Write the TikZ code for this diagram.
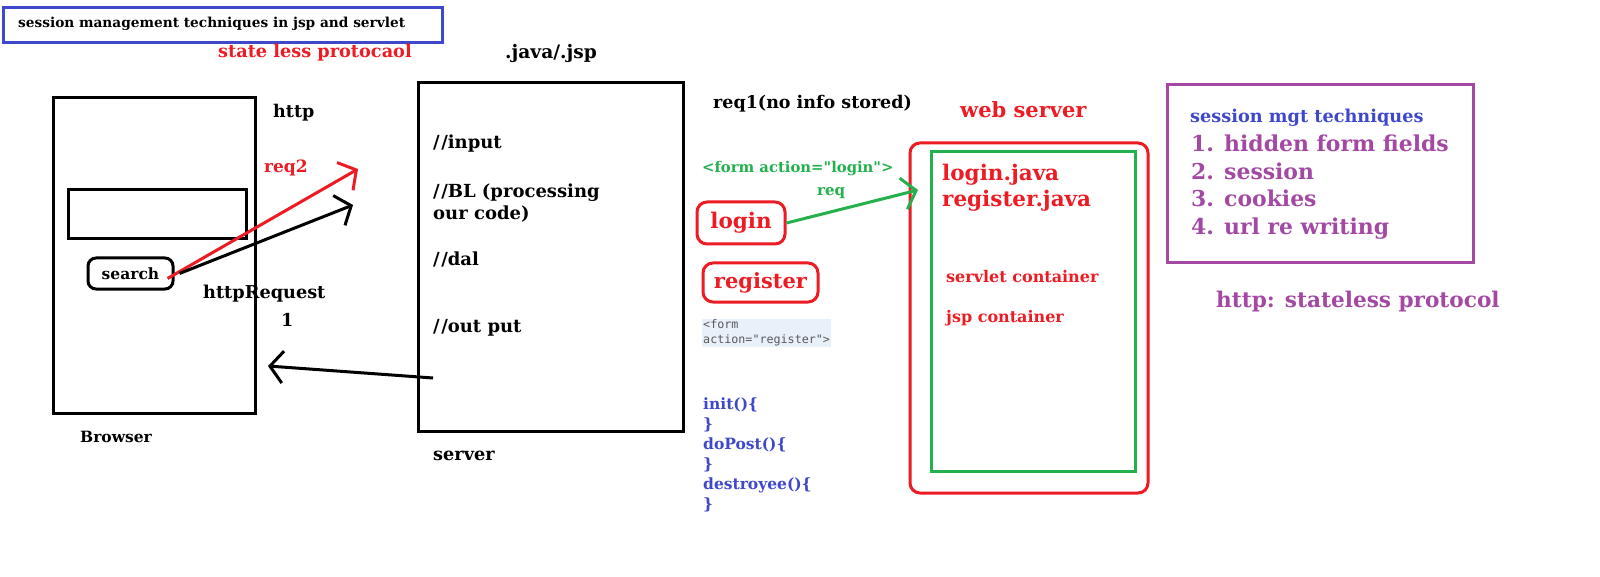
\documentclass[tikz,border=0pt]{standalone}
\usepackage{xcolor}
\usepackage{fontspec}
\setmainfont{DejaVu Serif}
\newfontfamily\qfont{DejaVu Serif}
\newfontfamily\codefont{DejaVu Sans Mono}
\usepackage{tikz}
\usetikzlibrary{arrows.meta,calc,positioning}

\definecolor{pblue}{RGB}{63,72,204}
\definecolor{pred}{RGB}{237,28,36}
\definecolor{pgreen}{RGB}{34,177,76}
\definecolor{ppurple}{RGB}{163,73,164}
\definecolor{codebg}{RGB}{232,240,250}

\newcommand{\fsz}[1]{\bfseries\fontsize{#1}{#1}\selectfont}
\newcommand{\sls}{/\kern1.5pt/}

\begin{document}
\begin{tikzpicture}[
x=1pt,y=-1pt,
frame/.style={
    rectangle,draw=black,line width=3pt,inner sep=0pt
},
rframe/.style={
    rectangle,rounded corners=10pt,line width=3pt,inner sep=0pt
},
lbl/.style={
    anchor=west,inner sep=0pt,align=left
},
barb/.style={
    line width=3pt,-{Straight Barb[length=13pt,width=32pt,line width=3pt]}
}
]
    \useasboundingbox[fill=white] (0,0) rectangle (1600,577);

    \node(T1)[frame,draw=pblue,minimum width=439,minimum height=35] at (222.5,25.5){};
    \node(T2)[lbl,font=\fsz{13.7}] at (18,24){session management techniques in jsp and servlet};
    \node(T3)[lbl,font=\fsz{17.7},text=pred] at (218,53){state less protocaol};

    \node(B1)[frame,minimum width=202,minimum height=315] at (154,255.5){};
    \node(B2)[frame,minimum width=178,minimum height=49] at (157,214.5){};
    \node(B3)[rframe,draw=black,rounded corners=8pt,minimum width=85,minimum height=31] at (130.5,273.5){};
    \node(B4)[font=\fsz{15.5}] at (B3){search};
    \node(B5)[lbl,font=\fsz{15.5}] at (80,437){Browser};
    \node(H1)[lbl,font=\fsz{17.5}] at (273,113){http};
    \node(H2)[lbl,font=\fsz{17},text=pred] at (264,168){req2};
    \node(H3)[lbl,font=\fsz{17.7}] at (203,294){httpRequest};
    \node(H4)[lbl,font=\fsz{17.7}] at (281,320){1};

    \node(S1)[frame,minimum width=265,minimum height=348] at (550.5,257){};
    \node(S2)[lbl,font=\fsz{18.6}] at (505,54){.java/.jsp};
    \node(S3)[lbl,font=\fsz{18}] at (433,144){\sls input};
    \node(S4)[lbl,font=\fsz{18}] at (433,203){\sls BL (processing\\[4pt]our code)};
    \node(S5)[lbl,font=\fsz{18}] at (433,259){\sls dal};
    \node(S6)[lbl,font=\fsz{18}] at (433,328){\sls out put};
    \node(S7)[lbl,font=\fsz{17.7}] at (433,456){server};

    \coordinate(R2) at (358,169);
    \coordinate(R1) at (353,205);
    \coordinate(O1) at (433,378);
    \coordinate(O2) at (268,366);
    \draw[barb,draw=pred] ([xshift=-7pt,yshift=-5pt]B3.east) to (R2);
    \draw[barb] ([xshift=5pt]B3.east) to (R1);
    \draw[barb] (O1) to (O2);

    \node(Q1)[lbl,font=\fsz{17.5}] at (713,104){req1(no info stored)};
    \node(Q2)[lbl,font=\qfont\fsz{14.8},text=pgreen] at (702,169){<form action="login">};
    \node(Q3)[lbl,font=\fsz{15},text=pgreen] at (817,193){req};
    \node(L1)[rframe,draw=pred,minimum width=88,minimum height=42] at (741,223){};
    \node(L2)[font=\fsz{21.5},text=pred] at (L1){login};
    \node(L3)[rframe,draw=pred,minimum width=115,minimum height=39] at (760.5,282.5){};
    \node(L4)[font=\fsz{21},text=pred] at (L3){register};
    \node(L5)[lbl,fill=codebg,inner sep=1pt,text=black!65,font=\codefont\fontsize{11.7}{14.5}\selectfont] at (702,333){<form\\action="register">};
    \node(L6)[lbl,text=pblue,font=\bfseries\fontsize{15.5}{20}\selectfont] at (703,455){init()\{\\\}\\doPost()\{\\\}\\destroyee()\{\\\}};

    \node(W1)[lbl,font=\fsz{21},text=pred] at (960,110){web server};
    \node(W2)[rframe,draw=pred,minimum width=238,minimum height=350] at (1029,318){};
    \node(W3)[frame,draw=pgreen,minimum width=204,minimum height=319] at (1033,311.5){};
    \node(W4)[lbl,text=pred,font=\bfseries\fontsize{21.5}{26}\selectfont] at (942,188){login.java\\register.java};
    \node(W5)[lbl,font=\fsz{16},text=pred] at (946,277){servlet container};
    \node(W6)[lbl,font=\fsz{16},text=pred] at (946,318){jsp container};
    \draw[barb,draw=pgreen] (L1.east) to (918,190);

    \node(M1)[frame,draw=ppurple,minimum width=306,minimum height=178] at (1320,174){};
    \node(M2)[lbl,font=\fsz{17.7},text=pblue] at (1190,118){session mgt techniques};
    \node(M3)[lbl,text=ppurple,font=\bfseries\fontsize{21.9}{27.7}\selectfont] at (1191,187){1. hidden form fields\\2. session\\3. cookies\\4. url re writing};
    \node(M4)[lbl,font=\fsz{21.6},text=ppurple] at (1216,302){http: stateless protocol};
\end{tikzpicture}
\end{document}
